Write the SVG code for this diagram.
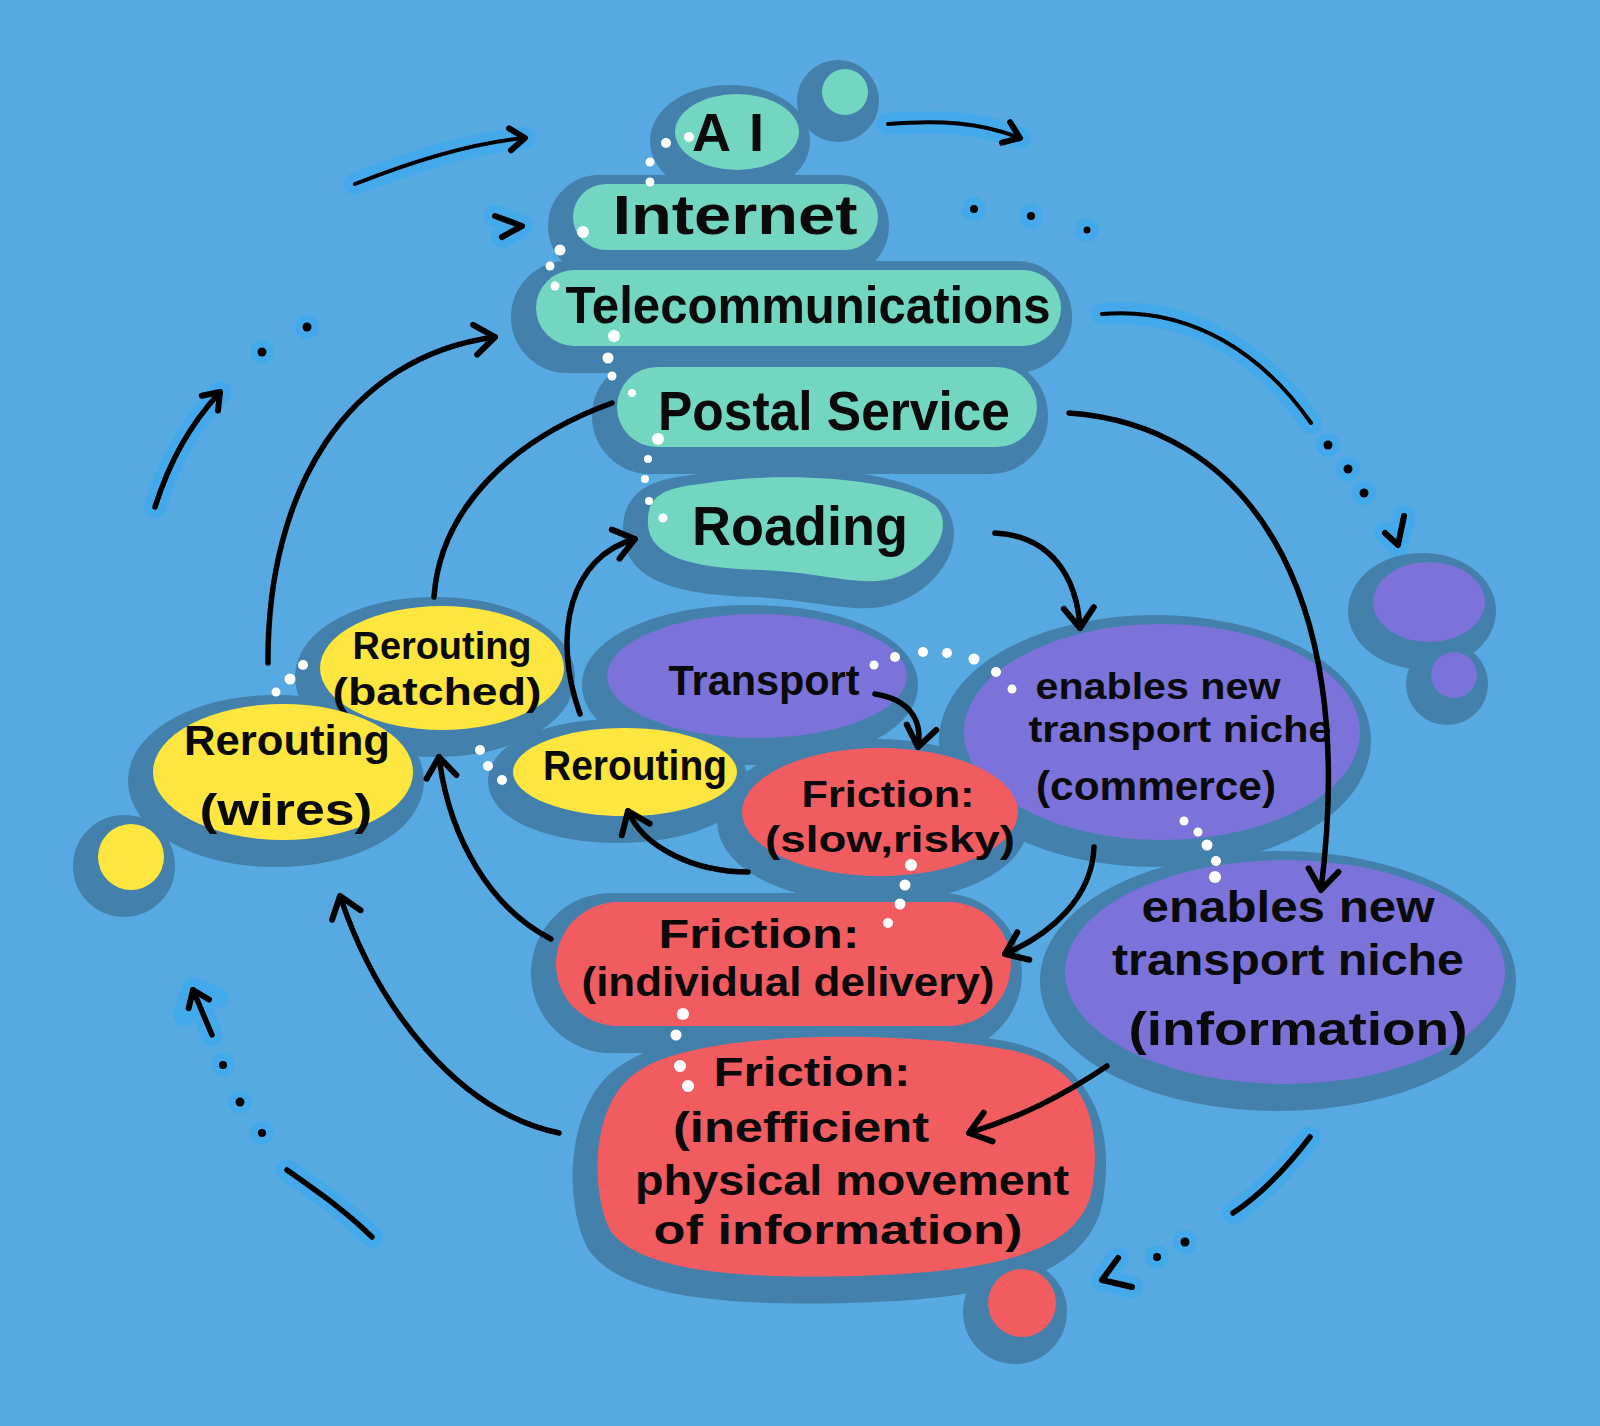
<svg xmlns="http://www.w3.org/2000/svg" width="1600" height="1426" viewBox="0 0 1600 1426">
<defs>
<style>
.sh{fill:#4380ac;stroke:#4380ac;stroke-width:36;stroke-linejoin:round}
.teal{fill:#72d6c1}
.yel{fill:#fde63f}
.pur{fill:#7b73d9}
.red{fill:#f15c61}
text{font-family:"Liberation Sans",Arial,sans-serif;font-weight:bold;fill:#0a0a0a;text-anchor:middle}
.ln{fill:none;stroke:#000;stroke-width:5.5;stroke-linecap:round}
.thin{fill:none;stroke:#000;stroke-width:4;stroke-linecap:round}
.halo{fill:none;stroke:#44a9ea;stroke-width:22;stroke-linecap:round;stroke-linejoin:round}
.hdot{fill:#44a9ea}
.bdot{fill:#000}
.wdot{fill:#fff}
.ch{fill:none;stroke:#000;stroke-width:6;stroke-linecap:round;stroke-linejoin:round}
</style>
<marker id="ah" viewBox="-30 -20 36 40" markerWidth="36" markerHeight="40" refX="0" refY="0" orient="auto" markerUnits="userSpaceOnUse">
<path d="M -20,-15 L 0,0 L -20,15" fill="none" stroke="#000" stroke-width="6" stroke-linecap="round" stroke-linejoin="round"/>
</marker>
<marker id="ahs" viewBox="-24 -16 30 32" markerWidth="30" markerHeight="32" refX="0" refY="0" orient="auto" markerUnits="userSpaceOnUse">
<path d="M -15,-11 L 0,0 L -15,11" fill="none" stroke="#000" stroke-width="6" stroke-linecap="round" stroke-linejoin="round"/>
</marker>
<ellipse id="s-ai" cx="737" cy="132" rx="62" ry="38"/>
<circle id="s-aidot" cx="845" cy="92" r="23"/>
<rect id="s-internet" x="573" y="184" width="305" height="66" rx="33"/>
<rect id="s-telecom" x="536" y="270" width="525" height="76" rx="38"/>
<rect id="s-postal" x="617" y="367" width="420" height="80" rx="40"/>
<path id="s-roading" d="M 700,484 C 780,470 900,478 935,505 C 955,525 935,562 900,576 C 865,590 825,572 760,570 C 690,568 650,556 648,525 C 646,495 665,488 700,484 Z"/>
<ellipse id="s-batched" cx="442" cy="668" rx="122" ry="62"/>
<ellipse id="s-wires" cx="283" cy="772" rx="130" ry="68"/>
<ellipse id="s-rer" cx="625" cy="772" rx="112" ry="44"/>
<circle id="s-ydot" cx="131" cy="857" r="33"/>
<ellipse id="s-transport" cx="757" cy="676" rx="150" ry="62"/>
<ellipse id="s-commerce" cx="1162" cy="732" rx="198" ry="108"/>
<ellipse id="s-info" cx="1285" cy="972" rx="220" ry="112"/>
<ellipse id="s-pdot1" cx="1429" cy="602" rx="56" ry="40"/>
<circle id="s-pdot2" cx="1454" cy="675" r="23"/>
<ellipse id="s-slow" cx="880" cy="812" rx="138" ry="64"/>
<rect id="s-indiv" x="556" y="902" width="455" height="124" rx="62"/>
<path id="s-ineff" d="M 640,1070 C 700,1030 900,1030 1010,1050 C 1090,1065 1102,1130 1092,1190 C 1080,1250 1000,1270 880,1275 C 760,1280 640,1275 610,1230 C 590,1190 590,1100 640,1070 Z"/>
<circle id="s-rdot" cx="1022" cy="1303" r="34"/>
</defs>
<rect width="1600" height="1426" fill="#57a9e1"/>

<g id="shadows" transform="translate(-7,9)">
<use href="#s-ai" class="sh"/><use href="#s-aidot" class="sh"/><use href="#s-internet" class="sh"/><use href="#s-telecom" class="sh"/><use href="#s-postal" class="sh"/><use href="#s-roading" class="sh"/>
<use href="#s-batched" class="sh"/><use href="#s-wires" class="sh"/><use href="#s-rer" class="sh"/><use href="#s-ydot" class="sh"/>
<use href="#s-transport" class="sh"/><use href="#s-commerce" class="sh"/><use href="#s-info" class="sh"/><use href="#s-pdot1" class="sh"/><use href="#s-pdot2" class="sh"/>
<use href="#s-slow" class="sh"/><use href="#s-indiv" class="sh"/><use href="#s-ineff" class="sh"/><use href="#s-rdot" class="sh"/>
</g>

<g id="node-ai"><use href="#s-ai" class="teal"/><use href="#s-aidot" class="teal"/><text x="737" y="151" font-size="54" letter-spacing="18">AI</text></g>
<g id="node-internet"><use href="#s-internet" class="teal"/><text x="735" y="234" font-size="56" textLength="245" lengthAdjust="spacingAndGlyphs">Internet</text></g>
<g id="node-telecom"><use href="#s-telecom" class="teal"/><text x="808" y="323" font-size="52" textLength="485" lengthAdjust="spacingAndGlyphs">Telecommunications</text></g>
<g id="node-postal"><use href="#s-postal" class="teal"/><text x="834" y="430" font-size="56" textLength="352" lengthAdjust="spacingAndGlyphs">Postal Service</text></g>
<g id="node-roading"><use href="#s-roading" class="teal"/><text x="800" y="545" font-size="56" textLength="216" lengthAdjust="spacingAndGlyphs">Roading</text></g>

<g id="node-rerouting-batched"><use href="#s-batched" class="yel"/><text x="442" y="659" font-size="38" textLength="179" lengthAdjust="spacingAndGlyphs">Rerouting</text><text x="437" y="705" font-size="38" textLength="209" lengthAdjust="spacingAndGlyphs">(batched)</text></g>
<g id="node-rerouting-wires"><use href="#s-wires" class="yel"/><use href="#s-ydot" class="yel"/><text x="287" y="755" font-size="42" textLength="206" lengthAdjust="spacingAndGlyphs">Rerouting</text><text x="286" y="825" font-size="44" textLength="173" lengthAdjust="spacingAndGlyphs">(wires)</text></g>
<g id="node-rerouting"><use href="#s-rer" class="yel"/><text x="635" y="780" font-size="42" textLength="184" lengthAdjust="spacingAndGlyphs">Rerouting</text></g>

<g id="node-transport"><use href="#s-transport" class="pur"/><text x="764" y="695" font-size="42" textLength="191" lengthAdjust="spacingAndGlyphs">Transport</text></g>
<g id="node-commerce"><use href="#s-commerce" class="pur"/><text x="1158" y="699" font-size="36" textLength="245" lengthAdjust="spacingAndGlyphs">enables new</text><text x="1180" y="742" font-size="36" textLength="303" lengthAdjust="spacingAndGlyphs">transport niche</text><text x="1156" y="800" font-size="40" textLength="240" lengthAdjust="spacingAndGlyphs">(commerce)</text></g>
<g id="node-information"><use href="#s-info" class="pur"/><use href="#s-pdot1" class="pur"/><use href="#s-pdot2" class="pur"/><text x="1288" y="922" font-size="44" textLength="293" lengthAdjust="spacingAndGlyphs">enables new</text><text x="1288" y="975" font-size="44" textLength="352" lengthAdjust="spacingAndGlyphs">transport niche</text><text x="1298" y="1045" font-size="46" textLength="339" lengthAdjust="spacingAndGlyphs">(information)</text></g>

<g id="node-friction-slow"><use href="#s-slow" class="red"/><text x="888" y="807" font-size="37" textLength="173" lengthAdjust="spacingAndGlyphs">Friction:</text><text x="890" y="852" font-size="37" textLength="250" lengthAdjust="spacingAndGlyphs">(slow,risky)</text></g>
<g id="node-friction-individual"><use href="#s-indiv" class="red"/><text x="759" y="948" font-size="40" textLength="201" lengthAdjust="spacingAndGlyphs">Friction:</text><text x="788" y="996" font-size="40" textLength="413" lengthAdjust="spacingAndGlyphs">(individual delivery)</text></g>
<g id="node-friction-inefficient"><use href="#s-ineff" class="red"/><use href="#s-rdot" class="red"/><text x="812" y="1086" font-size="40" textLength="197" lengthAdjust="spacingAndGlyphs">Friction:</text><text x="801" y="1142" font-size="42" textLength="256" lengthAdjust="spacingAndGlyphs">(inefficient</text><text x="852" y="1195" font-size="42" textLength="434" lengthAdjust="spacingAndGlyphs">physical movement</text><text x="838" y="1244" font-size="41" textLength="369" lengthAdjust="spacingAndGlyphs">of information)</text></g>

<g id="connectors">
<g id="halos">
<path class="halo" d="M 355,184 C 408,163 469,143 525,138"/>
<path class="halo" d="M 495,216 L 522,226 L 502,237"/>
<path class="halo" d="M 888,124 C 939,120 980,122 1020,138"/>
<path class="halo" d="M 1102,314 C 1194,306 1265,357 1311,423"/>
<path class="halo" d="M 1385,533 L 1398,545 L 1404,516"/>
<path class="halo" d="M 155,507 C 170,460 190,425 220,392"/>
<path class="halo" d="M 212,1035 L 193,990 M 184,1015 L 193,988 L 218,998"/>
<path class="halo" d="M 287,1170 C 315,1190 345,1210 372,1237"/>
<path class="halo" d="M 1310,1137 C 1285,1170 1260,1195 1233,1213"/>
<path class="halo" d="M 1118,1258 L 1102,1280 L 1132,1287"/>
<circle class="hdot" cx="974" cy="209" r="12"/><circle class="hdot" cx="1031" cy="216" r="12"/><circle class="hdot" cx="1087" cy="230" r="12"/>
<circle class="hdot" cx="1328" cy="445" r="12"/><circle class="hdot" cx="1348" cy="469" r="12"/><circle class="hdot" cx="1364" cy="493" r="12"/>
<circle class="hdot" cx="262" cy="352" r="12"/><circle class="hdot" cx="307" cy="327" r="12"/>
<circle class="hdot" cx="223" cy="1065" r="12"/><circle class="hdot" cx="240" cy="1102" r="12"/><circle class="hdot" cx="262" cy="1133" r="12"/>
<circle class="hdot" cx="1185" cy="1242" r="12"/><circle class="hdot" cx="1157" cy="1257" r="12"/>
</g>
<path class="ln" d="M 434,597 C 440,510 510,440 612,403"/>
<path class="ln" d="M 580,714 C 551,633 571,556 635,539" marker-end="url(#ah)"/>
<path class="ln" d="M 268,663 C 267,490 347,357 495,337" marker-end="url(#ah)"/>
<path class="ln" d="M 995,533 C 1051,536 1077,577 1080,628" marker-end="url(#ah)"/>
<path class="ln" d="M 1069,413 C 1240,425 1360,580 1321,890" marker-end="url(#ah)"/>
<path class="ln" d="M 875,694 C 908,699 923,719 918,747" marker-end="url(#ah)"/>
<path class="ln" d="M 748,872 C 694,872 643,847 628,811" marker-end="url(#ah)"/>
<path class="ln" d="M 551,939 C 490,908 449,837 439,757" marker-end="url(#ah)"/>
<path class="ln" d="M 1094,847 C 1092,898 1051,934 1005,954" marker-end="url(#ah)"/>
<path class="ln" d="M 559,1133 C 459,1112 378,1010 340,896" marker-end="url(#ah)"/>
<path class="ln" d="M 1107,1066 C 1061,1097 1020,1117 969,1133" marker-end="url(#ah)"/>

<path class="thin" d="M 355,184 C 408,163 469,143 525,138" marker-end="url(#ahs)"/>
<path class="ch" d="M 495,216 L 522,226 L 502,237"/>
<path class="thin" d="M 888,124 C 939,120 980,122 1020,138" marker-end="url(#ahs)"/>
<path class="thin" d="M 1102,314 C 1194,306 1265,357 1311,423"/>
<path class="ch" d="M 1385,533 L 1398,545 L 1404,516"/>
<path class="ln" d="M 155,507 C 170,460 190,425 220,392" marker-end="url(#ahs)"/>
<path class="ln" d="M 212,1035 L 193,990" marker-end="url(#ahs)"/>
<path class="ln" d="M 287,1170 C 315,1190 345,1210 372,1237"/>
<path class="ln" d="M 1310,1137 C 1285,1170 1260,1195 1233,1213"/>
<path class="ch" d="M 1118,1258 L 1102,1280 L 1132,1287"/>
<circle class="bdot" cx="974" cy="209" r="4"/><circle class="bdot" cx="1031" cy="216" r="4"/><circle class="bdot" cx="1087" cy="230" r="3.5"/>
<circle class="bdot" cx="1328" cy="445" r="4.5"/><circle class="bdot" cx="1348" cy="469" r="4.5"/><circle class="bdot" cx="1364" cy="493" r="4.5"/>
<circle class="bdot" cx="262" cy="352" r="4.5"/><circle class="bdot" cx="307" cy="327" r="4.5"/>
<circle class="bdot" cx="223" cy="1065" r="4"/><circle class="bdot" cx="240" cy="1102" r="4.5"/><circle class="bdot" cx="262" cy="1133" r="4"/>
<circle class="bdot" cx="1185" cy="1242" r="4.5"/><circle class="bdot" cx="1157" cy="1257" r="4"/>

<g id="white-dots">
<circle class="wdot" cx="689" cy="137" r="5"/><circle class="wdot" cx="666" cy="143" r="5"/><circle class="wdot" cx="650" cy="162" r="4.5"/><circle class="wdot" cx="650" cy="182" r="4.5"/>
<circle class="wdot" cx="583" cy="232" r="6"/><circle class="wdot" cx="560" cy="250" r="5.5"/><circle class="wdot" cx="550" cy="266" r="4.5"/><circle class="wdot" cx="555" cy="286" r="4.5"/>
<circle class="wdot" cx="614" cy="336" r="6"/><circle class="wdot" cx="608" cy="358" r="5.5"/><circle class="wdot" cx="612" cy="376" r="4.5"/><circle class="wdot" cx="632" cy="393" r="4"/>
<circle class="wdot" cx="658" cy="439" r="6"/><circle class="wdot" cx="648" cy="459" r="4"/><circle class="wdot" cx="645" cy="479" r="4"/><circle class="wdot" cx="649" cy="501" r="4"/><circle class="wdot" cx="663" cy="518" r="4.5"/>
<circle class="wdot" cx="303" cy="665" r="5"/><circle class="wdot" cx="290" cy="679" r="5.5"/><circle class="wdot" cx="276" cy="692" r="4.5"/>
<circle class="wdot" cx="480" cy="750" r="5"/><circle class="wdot" cx="488" cy="766" r="5"/><circle class="wdot" cx="502" cy="780" r="5"/>
<circle class="wdot" cx="874" cy="665" r="4.5"/><circle class="wdot" cx="895" cy="657" r="5"/><circle class="wdot" cx="923" cy="652" r="5"/><circle class="wdot" cx="947" cy="653" r="5"/><circle class="wdot" cx="974" cy="659" r="5.5"/><circle class="wdot" cx="996" cy="672" r="5"/><circle class="wdot" cx="1012" cy="689" r="4.5"/>
<circle class="wdot" cx="1184" cy="821" r="4.5"/><circle class="wdot" cx="1198" cy="832" r="4.5"/><circle class="wdot" cx="1207" cy="845" r="5.5"/><circle class="wdot" cx="1216" cy="861" r="5"/><circle class="wdot" cx="1215" cy="877" r="6"/>
<circle class="wdot" cx="911" cy="865" r="6"/><circle class="wdot" cx="905" cy="885" r="5.5"/><circle class="wdot" cx="900" cy="904" r="5.5"/><circle class="wdot" cx="888" cy="923" r="5"/>
<circle class="wdot" cx="683" cy="1014" r="6"/><circle class="wdot" cx="676" cy="1035" r="5.5"/><circle class="wdot" cx="680" cy="1066" r="6"/><circle class="wdot" cx="688" cy="1086" r="6"/>
</g>
</g>
</svg>
